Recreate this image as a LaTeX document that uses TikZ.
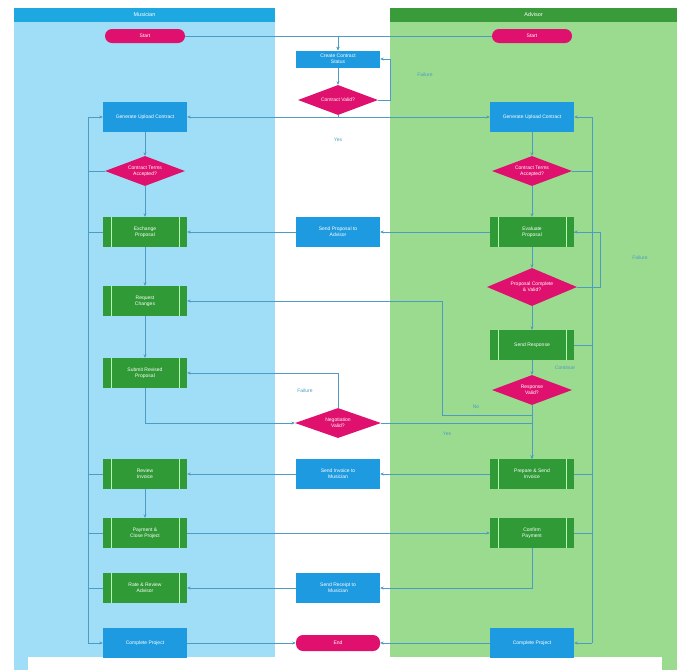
\documentclass[tikz,border=0pt]{standalone}
\usepackage{fontspec}
\setmainfont{Liberation Sans}
\usetikzlibrary{shapes.geometric,arrows.meta}
\definecolor{lanblue}{HTML}{A0DDF6}
\definecolor{hdblue}{HTML}{1EA8E2}
\definecolor{langreen}{HTML}{9ADB8F}
\definecolor{hdgreen}{HTML}{3A9B3A}
\definecolor{boxblue}{HTML}{1E9BE0}
\definecolor{boxgreen}{HTML}{2F9A36}
\definecolor{pinkc}{HTML}{E0106E}
\definecolor{connc}{HTML}{4C9CC4}
\tikzset{
  txt/.style={font=\fontsize{5}{5.6}\selectfont, text=white, align=center},
  bluebox/.style={txt, rectangle, fill=boxblue, minimum width=84pt, minimum height=30pt, inner sep=1pt},
  greenbox/.style={txt, rectangle, fill=boxgreen, minimum width=84pt, minimum height=30pt, inner sep=1pt,
    path picture={\draw[draw=green!30!white, line width=0.6pt]
      ([xshift=8pt]path picture bounding box.north west) -- ([xshift=8pt]path picture bounding box.south west)
      ([xshift=-8pt]path picture bounding box.north east) -- ([xshift=-8pt]path picture bounding box.south east);}},
  decision/.style={txt, diamond, fill=pinkc, minimum width=80pt, minimum height=30pt, aspect=2.67, inner sep=0pt},
  term/.style={txt, rectangle, rounded corners=7pt, fill=pinkc, minimum width=80pt, minimum height=14pt, inner sep=0pt},
  lbl/.style={font=\fontsize{5}{6}\selectfont, text=connc},
  conn/.style={draw=connc, line width=0.5pt},
  arr/.style={conn, -{Stealth[length=3.5pt,width=3pt]}},
}
\begin{document}
\begin{tikzpicture}[x=1pt,y=-1pt]
\useasboundingbox (0,0) rectangle (685,670);
% lanes
\fill[white] (0,0) rectangle (685,670);
\fill[lanblue] (14,8) rectangle (275,670);
\fill[langreen] (390,8) rectangle (677,670);
\fill[hdblue] (14,8) rectangle (275,22);
\fill[hdgreen] (390,8) rectangle (677,22);
\node[txt, font=\fontsize{5.5}{6}\selectfont] (hL) at (144.5,15) {Musician};
\node[txt, font=\fontsize{5.5}{6}\selectfont] (hR) at (533.5,15) {Advisor};
\fill[white] (28,657) rectangle (662,670);

% left column
\node[term] (sL) at (145,36) {Start};
\node[bluebox] (L1) at (145,117) {Generate Upload Contract};
\node[decision] (D1) at (145,171) {Contract Terms\\Accepted?};
\node[greenbox] (L2) at (145,232) {Exchange\\Proposal};
\node[greenbox] (L3) at (145,301) {Request\\Changes};
\node[greenbox] (L4) at (145,373) {Submit Revised\\Proposal};
\node[greenbox] (L5) at (145,474) {Review\\Invoice};
\node[greenbox] (L6) at (145,533) {Payment \&\\Close Project};
\node[greenbox] (L7) at (145,588) {Rate \& Review\\Advisor};
\node[bluebox] (L8) at (145,643) {Complete Project};

% middle column
\node[bluebox, minimum height=17pt] (M1) at (338,59) {Create Contract\\Status};
\node[decision] (MD1) at (338,100) {Contract Valid?};
\node[bluebox] (M2) at (338,232) {Send Proposal to\\Advisor};
\node[decision, minimum width=86pt] (MD2) at (338,423) {Negotiation\\Valid?};
\node[bluebox] (M3) at (338,474) {Send Invoice to\\Musician};
\node[bluebox] (M4) at (338,588) {Send Receipt to\\Musician};
\node[term, minimum width=84pt, minimum height=16pt] (ME) at (338,643) {End};

% right column
\node[term] (sR) at (532,36) {Start};
\node[bluebox] (R1) at (532,117) {Generate Upload Contract};
\node[decision] (RD1) at (532,171) {Contract Terms\\Accepted?};
\node[greenbox] (R2) at (532,232) {Evaluate\\Proposal};
\node[decision, minimum width=90pt, minimum height=38pt] (RD2) at (532,287) {Proposal Complete\\\& Valid?};
\node[greenbox] (R3) at (532,345) {Send Response};
\node[decision] (RD3) at (532,390) {Response\\Valid?};
\node[greenbox] (R4) at (532,474) {Prepare \& Send\\Invoice};
\node[greenbox] (R5) at (532,533) {Confirm\\Payment};
\node[bluebox] (R6) at (532,643) {Complete Project};

% helper coordinates
\coordinate (lt) at (88,117);
\coordinate (lb) at (88,643);
\coordinate (rt) at (592,117);
\coordinate (rb) at (592,643);
\coordinate (j1) at (442,301);
\coordinate (rd2c) at (600,287);

% connectors
\draw[arr] (sL.east) -| (M1.north);
\draw[arr] (sR.west) -| (M1.north);
\draw[arr] (M1) -- (MD1);
\draw[arr] (MD1.east) -- ++(12,0) |- (M1.east);
\draw[arr] (MD1.south) |- (L1.east);
\draw[arr] (MD1.south) |- (R1.west);
\draw[arr] (L1) -- (D1);
\draw[arr] (D1) -- (L2);
\draw[arr] (L2) -- (L3);
\draw[arr] (L3) -- (L4);
\draw[arr] (R1) -- (RD1);
\draw[arr] (RD1) -- (R2);
\draw[arr] (R2) -- (RD2);
\draw[arr] (RD2) -- (R3);
\draw[arr] (R3) -- (RD3);
\draw[arr] (RD3) -- (R4);
\draw[arr] (R2) -- (M2);
\draw[arr] (M2) -- (L2);
\draw[arr] (RD2.east) -- (rd2c) |- (R2.east);
\draw[arr] (L4.south) |- (MD2.west);
\draw[arr] (MD2.north) |- (L4.east);
\draw[arr] (MD2.east) -| (R4.north);
\draw[arr] (RD3.south) -- ++(0,10) -| (j1) -- (L3.east);
\draw[arr] (R4) -- (M3);
\draw[arr] (M3) -- (L5);
\draw[arr] (L5) -- (L6);
\draw[arr] (L6) -- (R5);
\draw[arr] (R5.south) |- (M4.east);
\draw[arr] (M4) -- (L7);
\draw[arr] (L8) -- (ME);
\draw[arr] (R6) -- (ME);
% side loops
\draw[arr] (lb) -- (lt) -- (L1.west);
\draw[arr] (lb) -- (L8.west);
\foreach \n in {D1,L2,L5,L6,L7} \draw[conn] (\n.west) -- (\n.west -| lt);
\draw[arr] (rb) -- (rt) -- (R1.east);
\draw[arr] (rb) -- (R6.east);
\foreach \n in {RD1,R2,R3,R4,R5} \draw[conn] (\n.east) -- (\n.east -| rt);

% labels
\node[lbl] (f1) at (425,75) {Failure};
\node[lbl] (y1) at (338,140) {Yes};
\node[lbl] (f2) at (640,258) {Failure};
\node[lbl] (f3) at (305,391) {Failure};
\node[lbl] (n1) at (476,407) {No};
\node[lbl] (y2) at (447,434) {Yes};
\node[lbl] (c1) at (565,368) {Continue};
\end{tikzpicture}
\end{document}
